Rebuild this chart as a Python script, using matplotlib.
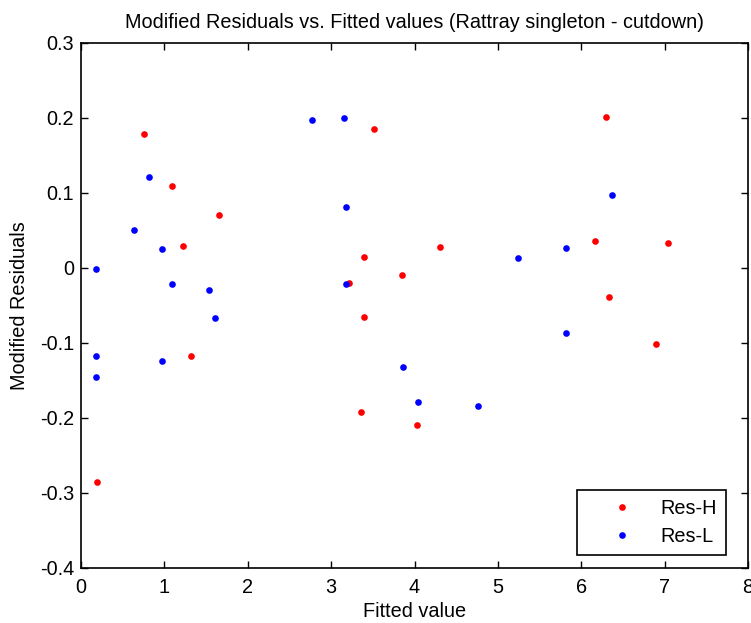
import matplotlib
matplotlib.use('Agg')
import matplotlib.pyplot as plt

plt.rcParams['font.family'] = ['Liberation Sans', 'DejaVu Sans']

# Res-H (red)
fit_h = [0.196, 0.76, 1.096, 1.224, 1.653, 1.317, 3.513, 3.40, 3.22, 3.845,
         4.306, 3.40, 3.36, 4.025, 6.294, 6.167, 7.035, 6.33, 6.90]
res_h = [-0.286, 0.179, 0.1095, 0.0298, 0.0708, -0.118, 0.1856, 0.0151, -0.0196, -0.0093,
         0.0276, -0.065, -0.192, -0.2087, 0.2016, 0.0356, 0.0334, -0.0383, -0.102]

# Res-L (blue)
fit_l = [0.176, 0.64, 0.82, 0.968, 1.096, 1.54, 1.61, 0.176, 0.176, 0.968,
         2.773, 3.16, 3.18, 3.18, 3.86, 4.045, 4.765, 5.24, 6.37, 5.82, 5.82]
res_l = [-0.0013, 0.0503, 0.1219, 0.0254, -0.0218, -0.0298, -0.0668, -0.118, -0.145, -0.124,
         0.1976, 0.1999, 0.081, -0.0218, -0.1326, -0.1793, -0.1838, 0.0134, 0.097, 0.0271, -0.0872]

fs = 14.3

fig = plt.figure(figsize=(7.51, 6.23), dpi=100)
ax = fig.add_axes([0.1079, 0.0883, 0.8881, 0.8427])

ax.plot(fit_h, res_h, 'o', color='#ff0000', markersize=4.8, markeredgewidth=0, label='Res-H')
ax.plot(fit_l, res_l, 'o', color='#0000ff', markersize=4.8, markeredgewidth=0, label='Res-L')

ax.set_xlim(0, 8)
ax.set_ylim(-0.4, 0.3)
ax.set_xticks(range(0, 9))
ax.set_yticks([-0.4, -0.3, -0.2, -0.1, 0, 0.1, 0.2, 0.3])
ax.set_yticklabels(['-0.4', '-0.3', '-0.2', '-0.1', '0', '0.1', '0.2', '0.3'])
ax.tick_params(direction='in', length=5, width=1, top=True, right=True, labelsize=fs)
ax.tick_params(axis='x', pad=7)
ax.tick_params(axis='y', pad=5)
for s in ax.spines.values():
    s.set_linewidth(1.2)

ax.set_title('Modified Residuals vs. Fitted values (Rattray singleton - cutdown)', fontsize=fs, pad=11)
ax.set_xlabel('Fitted value', fontsize=fs, labelpad=4)
ax.set_ylabel('Modified Residuals', fontsize=fs, labelpad=8)

leg = ax.legend(loc='lower right', bbox_to_anchor=(0.967, 0.025), fontsize=fs, fancybox=False,
                edgecolor='black', framealpha=1, borderpad=0.45, handlelength=3.6,
                handletextpad=0.15, labelspacing=0.45, borderaxespad=0)
leg.get_frame().set_linewidth(1.2)

fig.savefig('out.png', dpi=100)
